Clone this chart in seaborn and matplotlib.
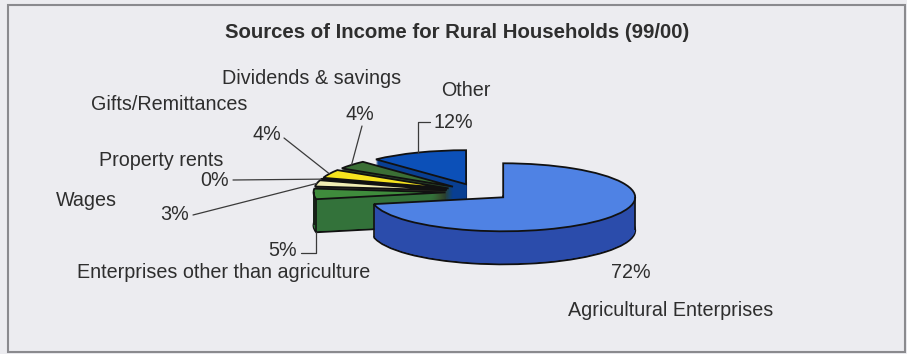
import numpy as np
import matplotlib
matplotlib.use("Agg")
import matplotlib.pyplot as plt
import seaborn as sns
from matplotlib.patches import Rectangle

sns.set_theme(style="white")
plt.rcParams['font.family'] = ['Liberation Sans', 'DejaVu Sans']

# ---- data (counter-clockwise from 12 o'clock) ----
categories = ["Other", "Dividends & savings", "Gifts/Remittances", "Property rents",
              "Wages", "Enterprises other than agriculture", "Agricultural Enterprises"]
shares = [12, 4, 4, 0.3, 3, 5, 72]
pct_labels = [f"{round(v)}%" for v in shares]

top_colors = ["#0c50b8", "#3b6f35", "#f6e31e", "#2b2b2b", "#f1edb4", "#3f8c3c", "#4f82e4"]
side_colors = ["#093f92", "#2c4a2a", "#3a3620", "#222222", "#3c3a30", "#33723a", "#2b4cab"]

W, H = 907, 354
fig = plt.figure(figsize=(W / 100, H / 100), dpi=100)
bg = "#ececf0"
fig.patch.set_facecolor(bg)

# flattened pie axes: x in pixels, y in pixels / ratio
ratio = 34 / 132
ax = fig.add_axes([0, 0, 1, 1])
ax.set_facecolor("none")
R = 132
expl = 32.5
cx, cy_px = 478, 192
cy = (H - cy_px) / ratio
depth = 33 / ratio
nlayers = 34

cum = np.cumsum([0] + shares[:-1])
total = sum(shares)

def slice_geom(i):
    a0 = 90 + 360 * cum[i] / total
    a1 = a0 + 360 * shares[i] / total
    mid = np.deg2rad((a0 + a1) / 2)
    return a0, a1, cx + expl * np.cos(mid), cy + expl * np.sin(mid)

for i in range(len(shares)):  # back to front
    for k in range(nlayers, 0, -1):
        wedges, _ = ax.pie(shares, explode=[expl] * len(shares), startangle=90,
                           counterclock=True, radius=R,
                           center=(cx, cy - depth * k / nlayers), frame=True,
                           colors=side_colors,
                           wedgeprops=dict(linewidth=1.4 if k == nlayers else 0,
                                           edgecolor="#111111"))
        for j, w in enumerate(wedges):
            if j != i:
                w.remove()
    # silhouette / edge verticals on the visible front
    a0, a1, sx, sy = slice_geom(i)
    for a in (a0, a1, 180, 360):
        if a0 <= a <= a1 and np.sin(np.deg2rad(a)) <= 0.02:
            vx = sx + R * np.cos(np.deg2rad(a))
            vy = sy + R * np.sin(np.deg2rad(a))
            ax.vlines(vx, vy - depth, vy, color="#111111", lw=1.2)
    wedges, _ = ax.pie(shares, explode=[expl] * len(shares), startangle=90,
                       counterclock=True, radius=R, center=(cx, cy), frame=True,
                       colors=top_colors,
                       wedgeprops=dict(linewidth=1.3, edgecolor="#111111"))
    for j, w in enumerate(wedges):
        if j != i:
            w.remove()

ax.set_aspect("auto")
ax.set_xlim(0, W)
ax.set_ylim(0, H / ratio)
ax.axis("off")

# overlay axes in pixel coordinates for text
tx = fig.add_axes([0, 0, 1, 1])
tx.set_xlim(0, W)
tx.set_ylim(H, 0)
tx.axis("off")
tx.set_facecolor("none")

tx.add_patch(Rectangle((8, 5), 897, 347, fill=False, edgecolor="#8a8a8e", linewidth=1.5))

tc = "#2e2e2e"
tx.text(457, 33, "Sources of Income for Rural Households (99/00)", ha="center", va="center",
        fontsize=14.7, fontweight="bold", color=tc)

def anchor(i, frac_along=0.5):
    a0, a1, sx, sy = slice_geom(i)
    ang = np.deg2rad(a0 + (a1 - a0) * frac_along)
    return (sx + R * np.cos(ang), sy + R * np.sin(ang))

name_pos = [(466, 90), (312, 78), (169, 104), (161, 160), (86, 200), (224, 272), (671, 310)]
pct_pos = [(453, 122), (360, 115), (267, 135), (215, 180), (175, 215), (283, 250), (631, 272)]
fs = 14.2
for i, (name, pos) in enumerate(zip(categories, name_pos)):
    tx.text(pos[0], pos[1], name, ha="center", va="center", fontsize=fs, color=tc)
for i, pos in enumerate(pct_pos):
    tx.text(pos[0], pos[1], pct_labels[i], ha="center", va="center", fontsize=fs, color=tc)

# leader lines: (slice, position along arc, start offset from pct label, connection, on bottom rim)
leaders = [(0, 0.5, (-23, 0), "angle,angleA=0,angleB=90", False),
           (1, 0.5, (2, 11), "arc3", False),
           (2, 0.5, (17, 3), "arc3", False),
           (3, 0.5, (18, 0), "arc3", False),
           (4, 0.5, (18, 0), "arc3", False),
           (5, 1.0, (18, 3), "angle,angleA=0,angleB=90", True)]
for i, f, off, conn, bottom in leaders:
    px, py = pct_pos[i]
    start = (px + off[0], py + off[1])
    xy = anchor(i, f)
    if bottom:
        xy = (xy[0], xy[1] - depth)
    ax.annotate("", xy=xy, xycoords="data", xytext=start, textcoords=tx.transData,
                arrowprops=dict(arrowstyle="-", color="#3a3a3a", lw=0.9,
                                connectionstyle=conn, shrinkA=0, shrinkB=0))

fig.savefig("out.png", dpi=100, facecolor=bg)
